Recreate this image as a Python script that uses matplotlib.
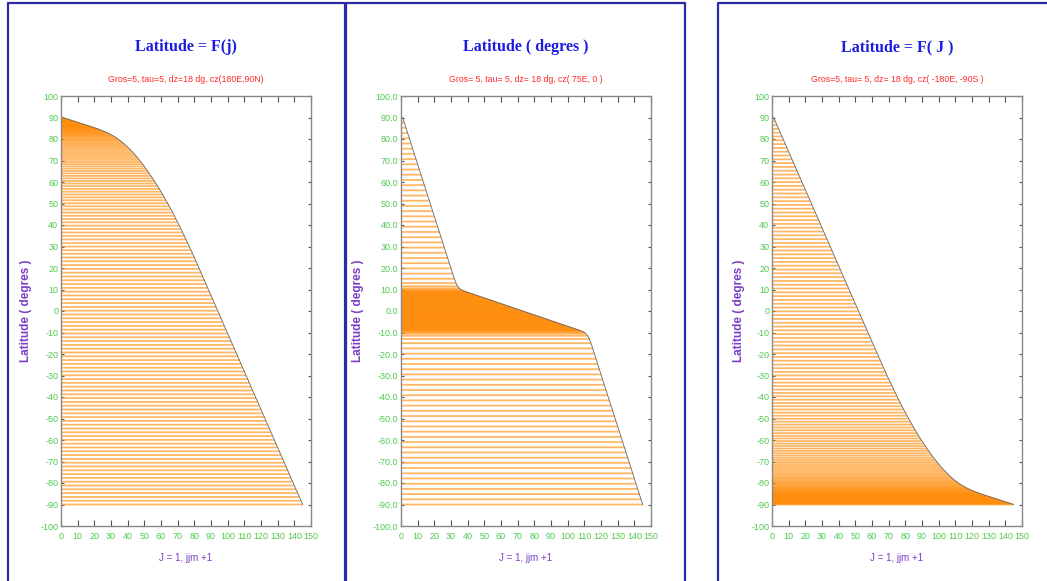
import numpy as np
import matplotlib
matplotlib.use('Agg')
import matplotlib.pyplot as plt
from matplotlib.lines import Line2D
from matplotlib.ticker import FormatStrFormatter

plt.rcParams['axes.unicode_minus'] = False
plt.rcParams['font.family'] = ['Liberation Sans', 'DejaVu Sans']

# grid index J = 1 .. jjm+1 (jjm = 144)
jj = np.arange(1, 146)

# latitude of each row, zoom centred on the north pole
lat_90n = [90.00, 89.75, 89.50, 89.25, 89.00, 88.75, 88.50, 88.25, 88.00, 87.75,
           87.50, 87.25, 87.00, 86.75, 86.50, 86.25, 86.00, 85.75, 85.50, 85.25,
           84.99, 84.72, 84.43, 84.13, 83.81, 83.48, 83.13, 82.77, 82.39, 82.00,
           81.58, 81.13, 80.64, 80.12, 79.56, 78.97, 78.34, 77.68, 76.98, 76.25,
           75.49, 74.69, 73.87, 73.01, 72.13, 71.21, 70.27, 69.29, 68.29, 67.25,
           66.19, 65.10, 63.99, 62.85, 61.69, 60.50, 59.29, 58.05, 56.79, 55.50,
           54.19, 52.85, 51.49, 50.10, 48.69, 47.25, 45.79, 44.30, 42.79, 41.25,
           39.69, 38.12, 36.52, 34.91, 33.29, 31.64, 29.98, 28.31, 26.61, 24.90,
           23.13, 21.36, 19.60, 17.83, 16.06, 14.29, 12.53, 10.76, 8.99, 7.22,
           5.46, 3.69, 1.92, 0.15, -1.62, -3.38, -5.15, -6.92, -8.69, -10.45,
           -12.22, -13.99, -15.76, -17.53, -19.29, -21.06, -22.83, -24.60, -26.36, -28.13,
           -29.90, -31.67, -33.43, -35.20, -36.97, -38.74, -40.50, -42.27, -44.04, -45.81,
           -47.58, -49.34, -51.11, -52.88, -54.65, -56.41, -58.18, -59.95, -61.72, -63.48,
           -65.25, -67.02, -68.79, -70.55, -72.32, -74.09, -75.86, -77.62, -79.39, -81.16,
           -82.93, -84.70, -86.46, -88.23, -90.00]

# zoom centred on the equator
lat_eq = [90.00, 87.58, 85.16, 82.74, 80.32, 77.90, 75.48, 73.06, 70.64, 68.22,
          65.80, 63.38, 60.96, 58.54, 56.12, 53.70, 51.28, 48.86, 46.44, 44.02,
          41.60, 39.18, 36.76, 34.34, 31.92, 29.50, 27.08, 24.66, 22.24, 19.82,
          17.40, 14.98, 12.98, 11.53, 10.58, 9.96, 9.54, 9.23, 8.97, 8.70,
          8.44, 8.18, 7.91, 7.65, 7.38, 7.12, 6.86, 6.59, 6.33, 6.07,
          5.80, 5.54, 5.27, 5.01, 4.75, 4.48, 4.22, 3.96, 3.69, 3.43,
          3.16, 2.90, 2.64, 2.37, 2.11, 1.85, 1.58, 1.32, 1.05, 0.79,
          0.53, 0.26, 0.00, -0.26, -0.53, -0.79, -1.05, -1.32, -1.58, -1.85,
          -2.11, -2.37, -2.64, -2.90, -3.16, -3.43, -3.69, -3.96, -4.22, -4.48,
          -4.75, -5.01, -5.27, -5.54, -5.80, -6.07, -6.33, -6.59, -6.86, -7.12,
          -7.38, -7.65, -7.91, -8.18, -8.44, -8.70, -8.97, -9.23, -9.54, -9.96,
          -10.58, -11.53, -12.98, -14.98, -17.40, -19.82, -22.24, -24.66, -27.08, -29.50,
          -31.92, -34.34, -36.76, -39.18, -41.60, -44.02, -46.44, -48.86, -51.28, -53.70,
          -56.12, -58.54, -60.96, -63.38, -65.80, -68.22, -70.64, -73.06, -75.48, -77.90,
          -80.32, -82.74, -85.16, -87.58, -90.00]

# zoom centred on the south pole
lat_90s = [90.00, 88.23, 86.46, 84.70, 82.93, 81.16, 79.39, 77.62, 75.86, 74.09,
           72.32, 70.55, 68.79, 67.02, 65.25, 63.48, 61.72, 59.95, 58.18, 56.41,
           54.65, 52.88, 51.11, 49.34, 47.58, 45.81, 44.04, 42.27, 40.50, 38.74,
           36.97, 35.20, 33.43, 31.67, 29.90, 28.13, 26.36, 24.60, 22.83, 21.06,
           19.29, 17.53, 15.76, 13.99, 12.22, 10.45, 8.69, 6.92, 5.15, 3.38,
           1.62, -0.15, -1.92, -3.69, -5.46, -7.22, -8.99, -10.76, -12.53, -14.29,
           -16.06, -17.83, -19.60, -21.36, -23.13, -24.90, -26.61, -28.31, -29.98, -31.64,
           -33.29, -34.91, -36.52, -38.12, -39.69, -41.25, -42.79, -44.30, -45.79, -47.25,
           -48.69, -50.10, -51.49, -52.85, -54.19, -55.50, -56.79, -58.05, -59.29, -60.50,
           -61.69, -62.85, -63.99, -65.10, -66.19, -67.25, -68.29, -69.29, -70.27, -71.21,
           -72.13, -73.01, -73.87, -74.69, -75.49, -76.25, -76.98, -77.68, -78.34, -78.97,
           -79.56, -80.12, -80.64, -81.13, -81.58, -82.00, -82.39, -82.77, -83.13, -83.48,
           -83.81, -84.13, -84.43, -84.72, -84.99, -85.25, -85.50, -85.75, -86.00, -86.25,
           -86.50, -86.75, -87.00, -87.25, -87.50, -87.75, -88.00, -88.25, -88.50, -88.75,
           -89.00, -89.25, -89.50, -89.75, -90.00]

titles = ['Latitude = F(j)', 'Latitude ( degres )', 'Latitude = F( J )']
subtitles = ['Gros=5, tau=5, dz=18 dg, cz(180E,90N)',
             'Gros= 5, tau= 5, dz= 18 dg, cz( 75E, 0 )',
             'Gros=5, tau= 5, dz= 18 dg, cz( -180E, -90S )']
ytick_fmt = ['%d', '%.1f', '%d']

W, H = 1047.0, 581.0
fig = plt.figure(figsize=(W / 100, H / 100), dpi=100)

ax_left = [61, 401, 772]
ylab_x = [-0.116, -0.148, -0.108]
frames = [(8, 344.5), (346, 685), (718, 1060)]

orange = '#ff8800'
green = '#4ec84e'
purple = '#7b3fc6'

for k, lat in enumerate([lat_90n, lat_eq, lat_90s]):
    ax = fig.add_axes([ax_left[k] / W, 55 / H, 250 / W, 430 / H])
    rows = ax.hlines(lat, 0, jj, colors=orange, lw=1.3, alpha=0.6)
    rows.set_snap(False)
    ax.plot(jj, lat, color='#666666', lw=0.6)
    ax.set_xlim(0, 150)
    ax.set_ylim(-100, 100)
    ax.set_xticks(np.arange(0, 151, 10))
    ax.set_yticks(np.arange(-100, 101, 10))
    ax.yaxis.set_major_formatter(FormatStrFormatter(ytick_fmt[k]))
    ax.tick_params(axis='x', direction='in', top=True, length=4, width=0.8,
                   color='#555555', labelcolor=green, labelsize=6.5, pad=4)
    ax.tick_params(axis='y', direction='in', right=True, length=2, width=0.8,
                   color='#555555', labelcolor=green, labelsize=6.5, pad=2)
    for s in ax.spines.values():
        s.set_color('#888888')
        s.set_linewidth(1.0)
    ax.set_xlabel('J = 1, jjm +1', color=purple, fontsize=7, labelpad=9)
    ax.set_ylabel('Latitude ( degres )', color=purple, fontsize=8.5,
                  fontweight='bold')
    ax.yaxis.set_label_coords(ylab_x[k], 0.5)

    xc = (ax_left[k] + 125) / W
    fig.text(xc, 1 - 47 / H, titles[k], ha='center', va='center',
             family='Liberation Serif', fontweight='bold', fontsize=11.5,
             color='#1c1ce0')
    fig.text(xc, 1 - 80 / H, subtitles[k], ha='center', va='center',
             fontsize=6.3, color='#ff2a2a')

    # panel frame
    x0, x1 = frames[k][0] / W, frames[k][1] / W
    yt = 1 - 3 / H
    fig.add_artist(Line2D([x0, x0, x1, x1], [-0.01, yt, yt, -0.01],
                          transform=fig.transFigure, color='#2a2aa6', lw=1.6))

fig.savefig('out.png', dpi=100)
